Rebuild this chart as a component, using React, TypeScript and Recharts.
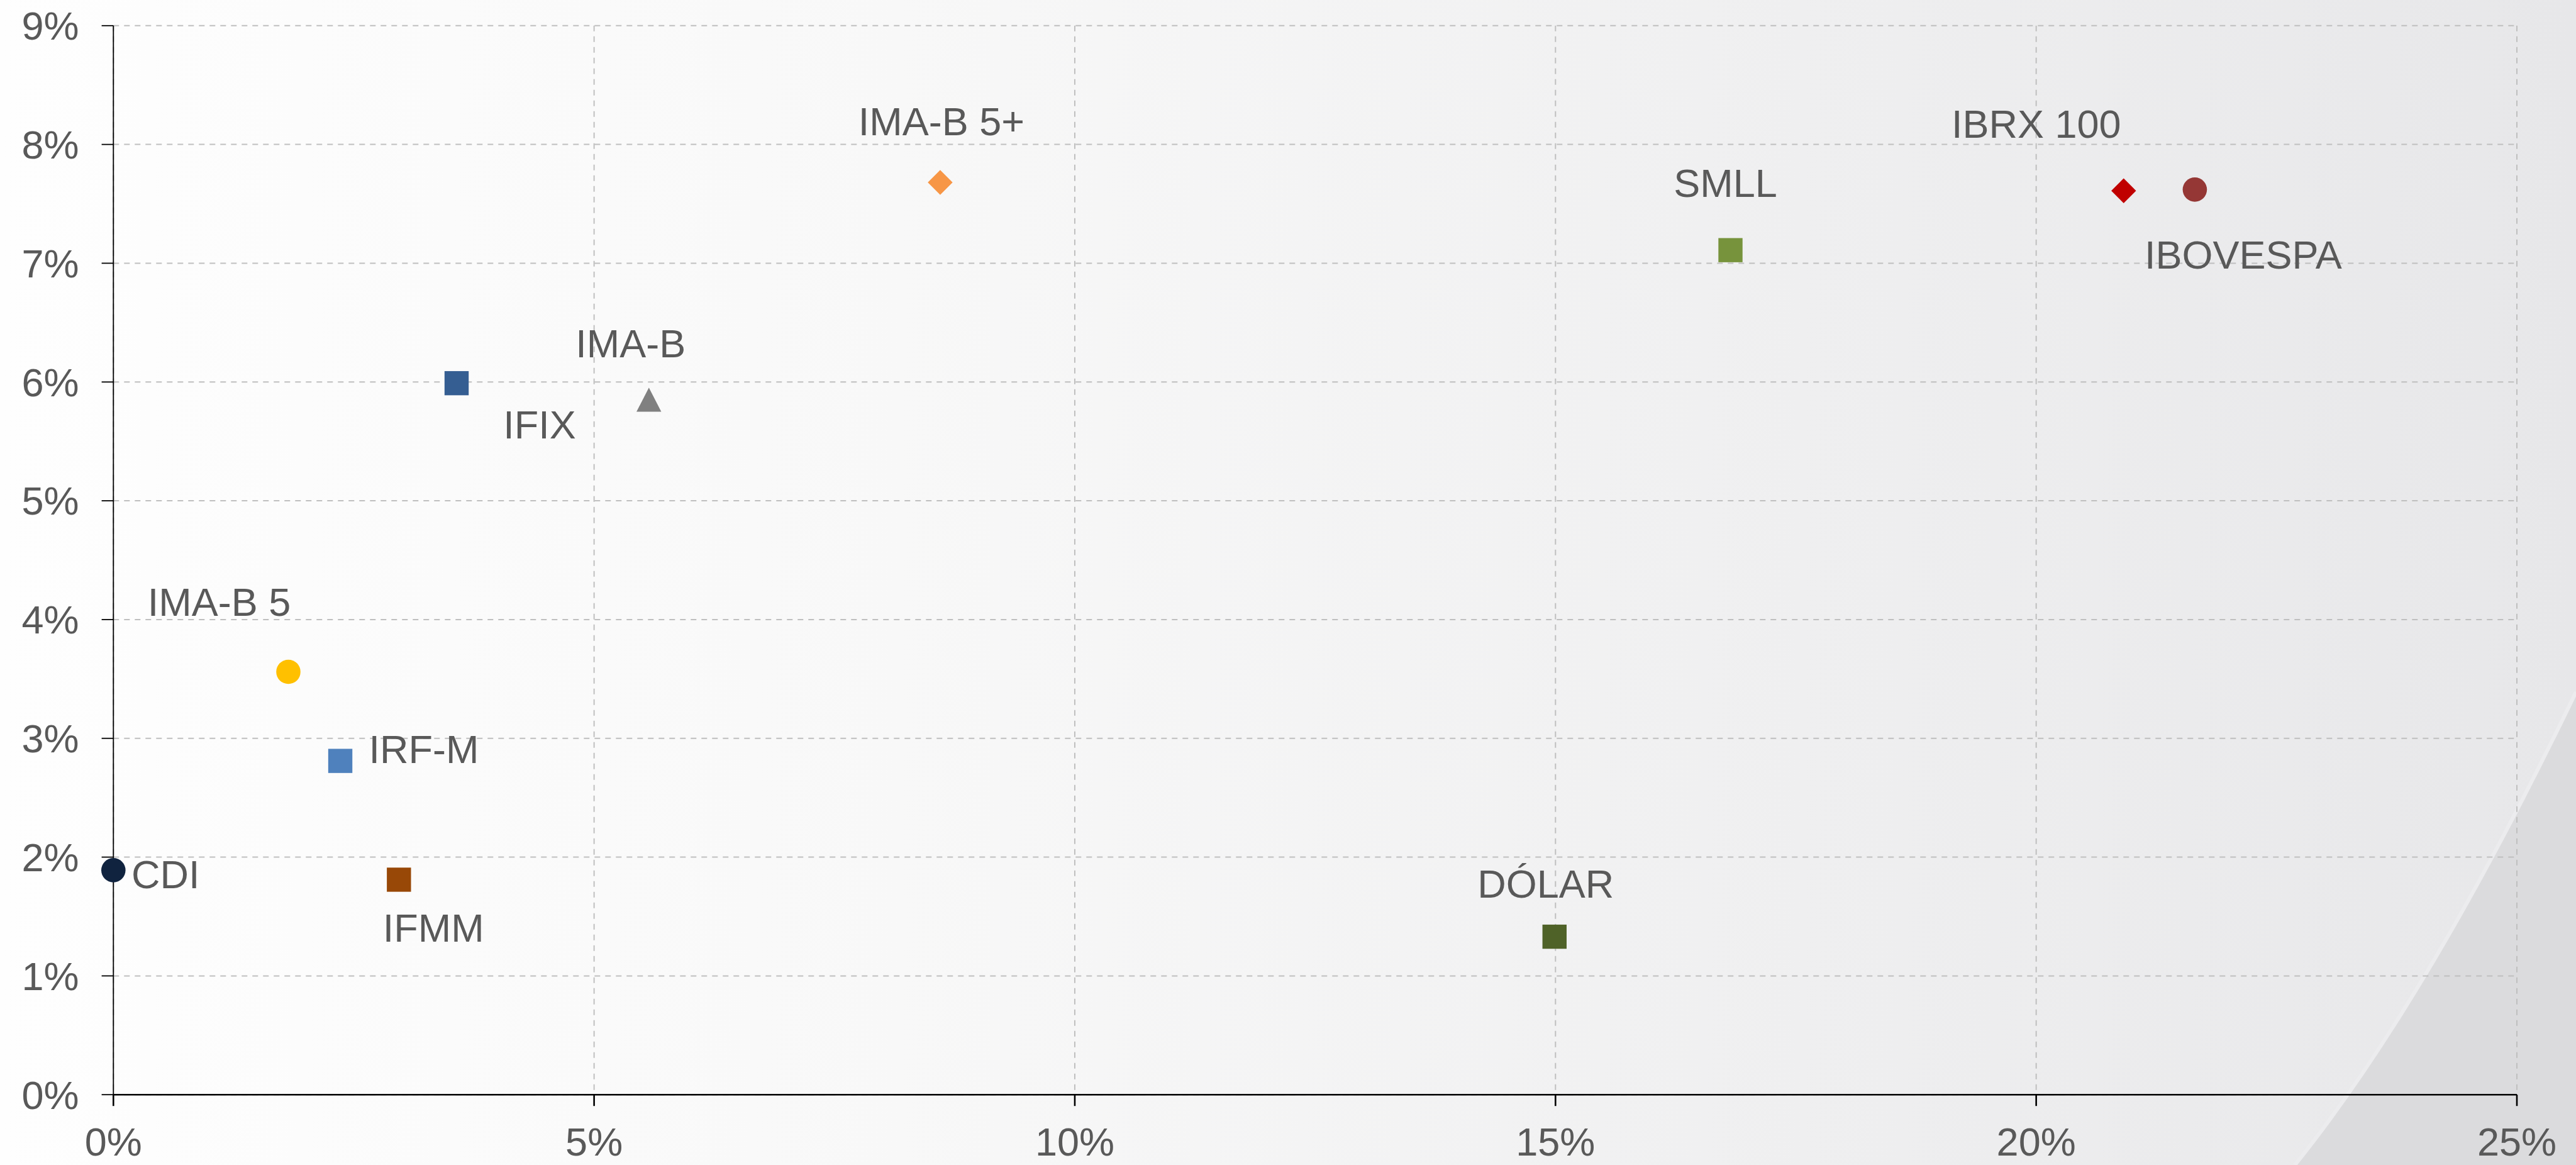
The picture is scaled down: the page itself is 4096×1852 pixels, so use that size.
import React from "react";
import {
  ScatterChart,
  Scatter,
  XAxis,
  YAxis,
  CartesianGrid,
} from "recharts";

// risk (x) vs return (y), both in %
const indexNames = [
  "CDI",
  "IMA-B 5",
  "IRF-M",
  "IFMM",
  "IFIX",
  "IMA-B",
  "IMA-B 5+",
  "SMLL",
  "DÓLAR",
  "IBRX 100",
  "IBOVESPA",
];
const riskValues = [0.0, 1.82, 2.36, 2.97, 3.57, 5.57, 8.6, 16.82, 14.99, 20.91, 21.65];
const returnValues = [1.89, 3.56, 2.81, 1.81, 5.99, 5.85, 7.68, 7.11, 1.33, 7.61, 7.62];

const xTicks = [0, 5, 10, 15, 20, 25];
const yTicks = [0, 1, 2, 3, 4, 5, 6, 7, 8, 9];

// marker styling, same order as indexNames
const markerShapes = [
  "circle",
  "circle",
  "square",
  "square",
  "square",
  "triangle",
  "diamond",
  "square",
  "square",
  "diamond",
  "circle",
];
const markerColors = [
  "#10233f",
  "#ffc000",
  "#4f81bd",
  "#984807",
  "#355e92",
  "#808080",
  "#f79646",
  "#77933c",
  "#4f6228",
  "#c00000",
  "#953735",
];
// label offset from the marker centre [dx, baseline dy]
const labelOffsets = [
  [83, 29],
  [-110, -89],
  [133, 3],
  [55, 99],
  [132, 88],
  [-29, -68],
  [2, -75],
  [-8, -85],
  [-14, -62],
  [-139, -84],
  [77, 126],
];

const W = 4096;
const H = 1852;
const FONT = "'Liberation Sans', Arial, sans-serif";
const TEXT = "#595959";

const makeShape = (i: number) => (props: any) => {
  const { cx, cy } = props;
  const color = markerColors[i];
  const kind = markerShapes[i];
  const [dx, dy] = labelOffsets[i];
  let mark: React.ReactNode = null;
  if (kind === "circle") {
    mark = <circle cx={cx} cy={cy} r={19.3} fill={color} />;
  } else if (kind === "square") {
    mark = <rect x={cx - 19.2} y={cy - 19.2} width={38.4} height={38.4} fill={color} />;
  } else if (kind === "diamond") {
    const r = 19.7;
    mark = (
      <polygon
        points={`${cx},${cy - r} ${cx + r},${cy} ${cx},${cy + r} ${cx - r},${cy}`}
        fill={color}
      />
    );
  } else {
    mark = (
      <polygon
        points={`${cx},${cy - 19.3} ${cx + 19.7},${cy + 19} ${cx - 19.7},${cy + 19}`}
        fill={color}
      />
    );
  }
  return (
    <g>
      {mark}
      <text
        x={cx + dx}
        y={cy + dy}
        textAnchor="middle"
        fontFamily={FONT}
        fontSize={63}
        fill={TEXT}
      >
        {indexNames[i]}
      </text>
    </g>
  );
};

function Background() {
  return (
    <svg width={W} height={H} style={{ position: "absolute", left: 0, top: 0 }}>
      <defs>
        <linearGradient id="bg" x1="0" y1="0" x2="1" y2="0">
          <stop offset="0%" stopColor="#fefefe" />
          <stop offset="35%" stopColor="#f8f8f8" />
          <stop offset="70%" stopColor="#efeff0" />
          <stop offset="100%" stopColor="#e7e7e9" />
        </linearGradient>
      </defs>
      <rect x={0} y={0} width={W} height={H} fill="url(#bg)" />
      <path d="M3649,1852 Q3860,1590 4096,1100 L4096,1852 Z" fill="#dbdbdd" />
      <path d="M3649,1852 Q3860,1590 4096,1100" fill="none" stroke="#ececee" strokeWidth={6} />
    </svg>
  );
}

export default function App() {
  return (
    <div style={{ position: "relative", width: W, height: H }}>
      <style>{"body{margin:0}"}</style>
      <Background />
      <div style={{ position: "absolute", left: 0, top: 0 }}>
        <ScatterChart
          width={W}
          height={H}
          margin={{ top: 40.8, right: 94, bottom: 11.8, left: 0.3 }}
        >
          <CartesianGrid stroke="#bfbfbf" strokeWidth={2} strokeDasharray="9 8" />
          <XAxis
            type="number"
            dataKey="x"
            domain={[0, 25]}
            ticks={xTicks}
            interval={0}
            height={100}
            tickFormatter={(v) => `${v}%`}
            tickSize={18}
            tickMargin={34}
            axisLine={{ stroke: "#000", strokeWidth: 2.6 }}
            tickLine={{ stroke: "#000", strokeWidth: 2.6 }}
            tick={{ fill: TEXT, fontSize: 63, fontFamily: FONT }}
          />
          <YAxis
            type="number"
            dataKey="y"
            domain={[0, 9]}
            ticks={yTicks}
            interval={0}
            width={180}
            tickFormatter={(v) => `${v}%`}
            tickSize={18.7}
            tickMargin={36}
            axisLine={{ stroke: "#000", strokeWidth: 1.8 }}
            tickLine={{ stroke: "#000", strokeWidth: 1.8 }}
            tick={{ fill: TEXT, fontSize: 63, fontFamily: FONT }}
          />
          {indexNames.map((name, i) => (
            <Scatter
              key={name}
              name={name}
              data={[{ x: riskValues[i], y: returnValues[i], name }]}
              fill={markerColors[i]}
              shape={makeShape(i)}
              isAnimationActive={false}
            />
          ))}
        </ScatterChart>
      </div>
    </div>
  );
}
